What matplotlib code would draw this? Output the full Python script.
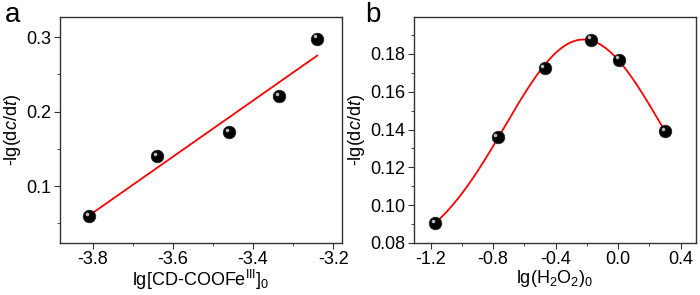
import numpy as np
import matplotlib
matplotlib.use('Agg')
import matplotlib.pyplot as plt
from matplotlib.ticker import MultipleLocator, AutoMinorLocator
from matplotlib.transforms import offset_copy

plt.rcParams['font.family'] = ['Liberation Sans', 'DejaVu Sans']
plt.rcParams['mathtext.fontset'] = 'custom'
plt.rcParams['mathtext.rm'] = 'Liberation Sans'
plt.rcParams['mathtext.it'] = 'Liberation Sans:italic'

# panel a: -lg(dc/dt) vs lg[CD-COOFe(III)]0
fe_x = [-3.81, -3.64, -3.46, -3.335, -3.24]
fe_y = [0.060, 0.140, 0.172, 0.221, 0.298]

# panel b: -lg(dc/dt) vs lg(H2O2)0
h2o2_x = [-1.17, -0.77, -0.47, -0.17, 0.005, 0.30]
h2o2_y = [0.0905, 0.136, 0.1725, 0.1875, 0.177, 0.139]

FS = 13
fig = plt.figure(figsize=(7, 2.95), dpi=100)
ax1 = fig.add_axes([59.5/700, 1-243/295, (342-59.5)/700, (243-16.5)/295])
ax2 = fig.add_axes([413.5/700, 1-243/295, (696-413.5)/700, (243-17)/295])


def balls(ax, x, y):
    # black sphere with a small highlight
    ax.plot(x, y, 'o', ms=9, mfc='black', mec='#222222', mew=0.6, zorder=3)
    tr = offset_copy(ax.transData, fig=fig, x=-1.6, y=1.6, units='points')
    ax.plot(x, y, 'o', ms=2.6, mfc='#cccccc', mec='none', alpha=0.9,
            transform=tr, zorder=4)


def style(ax):
    for s in ax.spines.values():
        s.set_color('#333333')
        s.set_linewidth(1.0)
    ax.tick_params(which='both', direction='out', labelsize=FS, color='#333333',
                   top=False, right=False, pad=2)
    ax.tick_params(which='major', length=4)
    ax.tick_params(which='minor', length=2.5)
    ax.xaxis.set_minor_locator(AutoMinorLocator(2))
    ax.yaxis.set_minor_locator(AutoMinorLocator(2))


def gauss_fit(x, y):
    # gaussian with baseline: try baselines, fit the rest as quadratic in log space
    x = np.asarray(x)
    y = np.asarray(y)
    best = None
    for y0 in np.linspace(0, y.min() - 1e-4, 400):
        p = np.polyfit(x, np.log(y - y0), 2)
        r = np.sum((y0 + np.exp(np.polyval(p, x)) - y) ** 2)
        if best is None or r < best[0]:
            best = (r, y0, p)
    return best[1], best[2]


# panel a: linear fit
k, b = np.polyfit(fe_x, fe_y, 1)
xa = np.array([min(fe_x), max(fe_x)])
ax1.plot(xa, k*xa + b, color='red', lw=1.3, zorder=2)
balls(ax1, fe_x, fe_y)
ax1.set_xlim(-3.883, -3.178)
ax1.set_ylim(0.0236, 0.3276)
ax1.xaxis.set_major_locator(MultipleLocator(0.2))
ax1.yaxis.set_major_locator(MultipleLocator(0.1))
ax1.xaxis.set_major_formatter(plt.FormatStrFormatter('%.1f'))
ax1.yaxis.set_major_formatter(plt.FormatStrFormatter('%.1f'))
style(ax1)
ax1.set_xlabel(r'lg[CD-COOFe$^{\mathrm{III}}$]$_0$', fontsize=FS, labelpad=0)
ax1.set_ylabel(r'-lg(d$\it{c}$/d$\it{t}$)', fontsize=FS, labelpad=2)

# panel b: gaussian fit
y0, p = gauss_fit(h2o2_x, h2o2_y)
xb = np.linspace(min(h2o2_x), max(h2o2_x), 200)
ax2.plot(xb, y0 + np.exp(np.polyval(p, xb)), color='red', lw=1.3, zorder=2)
balls(ax2, h2o2_x, h2o2_y)
ax2.set_xlim(-1.309, 0.499)
ax2.set_ylim(0.08, 0.1995)
ax2.xaxis.set_major_locator(MultipleLocator(0.4))
ax2.yaxis.set_major_locator(MultipleLocator(0.02))
ax2.xaxis.set_major_formatter(plt.FormatStrFormatter('%.1f'))
ax2.yaxis.set_major_formatter(plt.FormatStrFormatter('%.2f'))
style(ax2)
ax2.set_xlabel(r'lg(H$_2$O$_2$)$_0$', fontsize=FS, labelpad=0)
ax2.set_ylabel(r'-lg(d$\it{c}$/d$\it{t}$)', fontsize=FS, labelpad=2)

fig.text(5/700, 1-2/295, 'a', fontsize=20, va='top', ha='left')
fig.text(365/700, 1-2/295, 'b', fontsize=20, va='top', ha='left')

fig.savefig('out.png', dpi=100)
